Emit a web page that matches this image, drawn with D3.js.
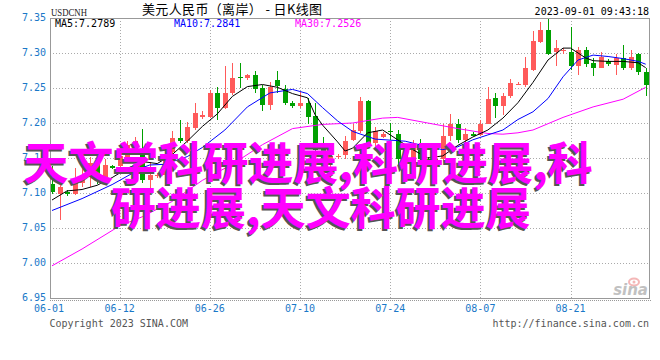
<!DOCTYPE html>
<html>
<head>
<meta charset="utf-8">
<script src="https://cdn.jsdelivr.net/npm/d3@7"></script>
<style>
  html, body { margin: 0; padding: 0; background: #fff; }
  svg { display: block; }
</style>
</head>
<body>
<div id="chart"></div>
<script>
// Trading days shown on the chart (Mon-Sat sessions)
const dates = [
  "06-01", "06-02", "06-03",
  "06-05", "06-06", "06-07", "06-08", "06-09", "06-10",
  "06-12", "06-13", "06-14", "06-15", "06-16", "06-17",
  "06-19", "06-20", "06-21", "06-22", "06-23", "06-24",
  "06-26", "06-27", "06-28", "06-29", "06-30", "07-01",
  "07-03", "07-04", "07-05", "07-06", "07-07", "07-08",
  "07-10", "07-11", "07-12", "07-13", "07-14", "07-15",
  "07-17", "07-18", "07-19", "07-20", "07-21", "07-22",
  "07-24", "07-25", "07-26", "07-27", "07-28", "07-29",
  "07-31", "08-01", "08-02", "08-03", "08-04", "08-05",
  "08-07", "08-08", "08-09", "08-10", "08-11", "08-12",
  "08-14", "08-15", "08-16", "08-17", "08-18", "08-19",
  "08-21", "08-22", "08-23", "08-24", "08-25", "08-26",
  "08-28", "08-29", "08-30", "08-31", "09-01"
];

const open = [
  7.113, 7.098, 7.101, 7.098, 7.115, 7.126, 7.143, 7.121, 7.138, 7.138,
  7.152, 7.166, 7.157, 7.119, 7.124, 7.126, 7.159, 7.179, 7.174, 7.193,
  7.209, 7.209, 7.243, 7.221, 7.243, 7.266, 7.264, 7.269, 7.250, 7.226,
  7.261, 7.249, 7.229, 7.224, 7.229, 7.210, 7.170, 7.148, 7.152, 7.155,
  7.176, 7.188, 7.231, 7.171, 7.180, 7.189, 7.185, 7.145, 7.143, 7.165,
  7.148, 7.148, 7.148, 7.181, 7.199, 7.176, 7.185, 7.183, 7.199, 7.236,
  7.225, 7.238, 7.255, 7.255, 7.276, 7.316, 7.333, 7.301, 7.304, 7.301,
  7.282, 7.305, 7.286, 7.279, 7.289, 7.283, 7.293, 7.279, 7.299, 7.273
];
const high = [
  7.138, 7.113, 7.104, 7.136, 7.143, 7.151, 7.148, 7.148, 7.140, 7.169,
  7.174, 7.180, 7.191, 7.145, 7.128, 7.166, 7.189, 7.204, 7.202, 7.229,
  7.217, 7.247, 7.252, 7.281, 7.286, 7.286, 7.270, 7.274, 7.255, 7.259,
  7.274, 7.255, 7.231, 7.245, 7.236, 7.229, 7.180, 7.169, 7.156, 7.181,
  7.198, 7.237, 7.233, 7.195, 7.187, 7.200, 7.190, 7.165, 7.176, 7.177,
  7.152, 7.159, 7.198, 7.213, 7.206, 7.193, 7.187, 7.205, 7.252, 7.243,
  7.243, 7.263, 7.258, 7.294, 7.332, 7.344, 7.350, 7.319, 7.307, 7.337,
  7.309, 7.308, 7.293, 7.301, 7.292, 7.299, 7.312, 7.305, 7.300, 7.278
];
const low = [
  7.099, 7.062, 7.096, 7.097, 7.109, 7.109, 7.113, 7.117, 7.134, 7.133,
  7.150, 7.160, 7.114, 7.107, 7.122, 7.124, 7.156, 7.171, 7.171, 7.190,
  7.206, 7.207, 7.205, 7.220, 7.240, 7.250, 7.262, 7.243, 7.217, 7.219,
  7.243, 7.226, 7.222, 7.221, 7.198, 7.150, 7.130, 7.119, 7.149, 7.148,
  7.174, 7.186, 7.164, 7.162, 7.178, 7.176, 7.140, 7.138, 7.135, 7.143,
  7.144, 7.130, 7.145, 7.174, 7.171, 7.171, 7.181, 7.181, 7.198, 7.207,
  7.212, 7.236, 7.254, 7.252, 7.274, 7.314, 7.297, 7.281, 7.298, 7.276,
  7.268, 7.280, 7.267, 7.278, 7.282, 7.268, 7.276, 7.276, 7.268, 7.238
];
const close = [
  7.101, 7.108, 7.098, 7.117, 7.124, 7.143, 7.117, 7.140, 7.136, 7.153,
  7.169, 7.175, 7.119, 7.126, 7.126, 7.152, 7.179, 7.174, 7.194, 7.214,
  7.211, 7.243, 7.221, 7.243, 7.264, 7.264, 7.269, 7.249, 7.226, 7.252,
  7.253, 7.229, 7.224, 7.229, 7.209, 7.161, 7.150, 7.153, 7.153, 7.174,
  7.190, 7.231, 7.169, 7.188, 7.185, 7.187, 7.148, 7.160, 7.168, 7.148,
  7.146, 7.142, 7.182, 7.199, 7.176, 7.185, 7.182, 7.199, 7.234, 7.224,
  7.238, 7.257, 7.256, 7.278, 7.317, 7.333, 7.299, 7.307, 7.305, 7.281,
  7.305, 7.284, 7.279, 7.294, 7.284, 7.293, 7.279, 7.294, 7.273, 7.254
];

// moving averages: [date, value]
const ma5 = [
  ["06-01", 7.090], ["06-03", 7.103], ["06-06", 7.105], ["06-08", 7.111],
  ["06-10", 7.122], ["06-13", 7.135], ["06-15", 7.145], ["06-17", 7.142],
  ["06-20", 7.155], ["06-22", 7.174], ["06-24", 7.195], ["06-27", 7.213],
  ["06-29", 7.238], ["07-01", 7.252], ["07-04", 7.255], ["07-06", 7.251],
  ["07-08", 7.242], ["07-11", 7.236], ["07-12", 7.212], ["07-13", 7.197],
  ["07-15", 7.173], ["07-17", 7.160], ["07-18", 7.164], ["07-20", 7.186],
  ["07-22", 7.190], ["07-25", 7.176], ["07-27", 7.162], ["07-29", 7.150],
  ["08-01", 7.153], ["08-03", 7.168], ["08-05", 7.180], ["08-08", 7.190],
  ["08-10", 7.207], ["08-12", 7.229], ["08-15", 7.258], ["08-17", 7.290],
  ["08-19", 7.307], ["08-21", 7.307], ["08-22", 7.300], ["08-23", 7.293],
  ["08-24", 7.289], ["08-26", 7.288], ["08-29", 7.288], ["08-31", 7.286],
  ["09-01", 7.279]
];
const ma10 = [
  ["06-01", 7.075], ["06-06", 7.092], ["06-10", 7.112], ["06-15", 7.136],
  ["06-16", 7.140], ["06-19", 7.141], ["06-22", 7.152], ["06-24", 7.165],
  ["06-28", 7.190], ["07-01", 7.223], ["07-05", 7.243], ["07-08", 7.248],
  ["07-11", 7.242], ["07-13", 7.222], ["07-15", 7.203], ["07-18", 7.188],
  ["07-21", 7.177], ["07-26", 7.174], ["07-29", 7.166], ["08-01", 7.162],
  ["08-03", 7.166], ["08-05", 7.176], ["08-08", 7.183], ["08-10", 7.190],
  ["08-12", 7.205], ["08-15", 7.216], ["08-17", 7.235], ["08-19", 7.266],
  ["08-22", 7.290], ["08-24", 7.297], ["08-26", 7.295], ["08-29", 7.292],
  ["08-31", 7.288], ["09-01", 7.284]
];
const ma30 = [
  ["06-01", 6.996], ["06-06", 7.020], ["06-12", 7.053], ["06-15", 7.066],
  ["06-20", 7.088], ["06-24", 7.118], ["06-29", 7.141], ["07-04", 7.169],
  ["07-08", 7.192], ["07-13", 7.198], ["07-18", 7.200], ["07-22", 7.207],
  ["07-25", 7.208], ["07-29", 7.200], ["08-03", 7.192], ["08-08", 7.185],
  ["08-10", 7.184], ["08-12", 7.186], ["08-15", 7.190], ["08-19", 7.208],
  ["08-24", 7.223], ["08-29", 7.234], ["09-01", 7.251]
];

const yTicks = [7.35, 7.30, 7.25, 7.20, 7.15, 7.10, 7.05, 7.00, 6.95];
const xTicks = ["06-01", "06-12", "06-26", "07-10", "07-24", "08-07", "08-21"];
const legend = [
  { label: "MA5:7.2789", color: "#000000" },
  { label: "MA10:7.2841", color: "#0000ff" },
  { label: "MA30:7.2526", color: "#ff00ff" }
];
const overlayLines = ["天文学科研进展,科研进展,科", "研进展,天文科研进展"];

const W = 660, H = 360;
const frame = { left: 50, right: 649, top: 18, bottom: 298 };
const mono = "'DejaVu Sans Mono', 'Liberation Mono', monospace";
const axisBlue = "#1a78c8";
const upColor = "#ff5a5a", downColor = "#00a000";

const svg = d3.select("#chart").append("svg")
  .attr("width", W).attr("height", H)
  .style("background", "#fff");

const x = d3.scalePoint().domain(dates).range([52, 645.7]);
const y = d3.scaleLinear().domain([6.95, 7.35]).range([frame.bottom, frame.top]);

const candles = dates.map((d, i) => ({
  date: d, open: open[i], high: high[i], low: low[i], close: close[i]
}));

// Header texts
svg.append("text")
  .attr("x", 51).attr("y", 16)
  .attr("textLength", 36).attr("lengthAdjust", "spacingAndGlyphs")
  .style("font-family", "'Liberation Serif', 'DejaVu Serif', serif")
  .style("font-size", "11px")
  .attr("fill", "#222")
  .text("USDCNH");

svg.append("text")
  .attr("x", 142).attr("y", 14)
  .attr("textLength", 180)
  .style("font-family", "'Noto Sans CJK SC', sans-serif")
  .style("font-size", "13px")
  .attr("fill", "#000")
  .text("美元人民币（离岸） - 日K线图");

svg.append("text")
  .attr("x", frame.right).attr("y", 15)
  .attr("text-anchor", "end")
  .style("font-family", mono).style("font-size", "10px")
  .attr("fill", "#000")
  .text("2023-09-01 09:43:18");

// Grid
const grid = svg.append("g")
  .attr("stroke", "#aaa").attr("stroke-dasharray", "1,2")
  .attr("shape-rendering", "crispEdges");

grid.selectAll(".hgrid")
  .data(yTicks.filter((t) => t < 7.34 && t > 6.96))
  .enter().append("line")
  .attr("x1", frame.left).attr("x2", frame.right)
  .attr("y1", (d) => Math.round(y(d)) + 0.5)
  .attr("y2", (d) => Math.round(y(d)) + 0.5);

grid.selectAll(".vgrid")
  .data(xTicks.slice(1))
  .enter().append("line")
  .attr("x1", (d) => Math.round(x(d)) + 0.5)
  .attr("x2", (d) => Math.round(x(d)) + 0.5)
  .attr("y1", frame.top).attr("y2", frame.bottom);

// dotted line under the frame
svg.append("line")
  .attr("x1", frame.left).attr("x2", 651)
  .attr("y1", 300.5).attr("y2", 300.5)
  .attr("stroke", "#999").attr("stroke-dasharray", "1,1");

// Axis labels
svg.selectAll(".ylab")
  .data(yTicks)
  .enter().append("text")
  .attr("x", 46).attr("y", (d) => y(d) + 3)
  .attr("text-anchor", "end")
  .style("font-family", mono).style("font-size", "10px")
  .attr("fill", axisBlue)
  .text((d) => d.toFixed(2));

svg.selectAll(".xlab")
  .data(xTicks)
  .enter().append("text")
  .attr("x", (d) => (d === "06-01" ? 49 : x(d)))
  .attr("y", 312)
  .attr("text-anchor", "middle")
  .style("font-family", mono).style("font-size", "10px")
  .attr("fill", axisBlue)
  .text((d) => d);

// Candles
const cg = svg.append("g").attr("shape-rendering", "crispEdges");

cg.selectAll(".wick")
  .data(candles)
  .enter().append("line")
  .attr("x1", (d) => Math.round(x(d.date)) + 0.5)
  .attr("x2", (d) => Math.round(x(d.date)) + 0.5)
  .attr("y1", (d) => y(d.high))
  .attr("y2", (d) => y(d.low))
  .attr("stroke", (d) => (d.close >= d.open ? upColor : downColor));

cg.selectAll(".body")
  .data(candles)
  .enter().append("rect")
  .attr("x", (d) => Math.round(x(d.date)) - 2)
  .attr("width", 5)
  .attr("y", (d) => y(Math.max(d.open, d.close)))
  .attr("height", (d) => Math.max(1, Math.abs(y(d.open) - y(d.close))))
  .attr("fill", (d) => (d.close >= d.open ? upColor : downColor));

// Moving averages
const line = d3.line()
  .x((d) => x(d[0]))
  .y((d) => y(d[1]));

[[ma30, "#ff00ff"], [ma10, "#0000ff"], [ma5, "#000000"]].forEach(([data, color]) => {
  svg.append("path")
    .datum(data)
    .attr("fill", "none")
    .attr("stroke", color)
    .attr("stroke-width", 1)
    .attr("d", line);
});

// Frame
svg.append("rect")
  .attr("x", frame.left + 0.5).attr("y", frame.top + 0.5)
  .attr("width", frame.right - frame.left).attr("height", frame.bottom - frame.top)
  .attr("fill", "none").attr("stroke", "#999")
  .attr("shape-rendering", "crispEdges");

// Legend
svg.selectAll(".legend")
  .data(legend)
  .enter().append("text")
  .attr("x", (d, i) => [55, 174, 295][i])
  .attr("y", 27)
  .style("font-family", mono).style("font-size", "10px")
  .attr("fill", (d) => d.color)
  .text((d) => d.label);

// sina logo
const logo = svg.append("g").attr("opacity", 0.6);
logo.append("ellipse")
  .attr("cx", 634).attr("cy", 282).attr("rx", 5).attr("ry", 3.5)
  .attr("fill", "none").attr("stroke", "#e88").attr("stroke-width", 2);
logo.append("circle")
  .attr("cx", 634).attr("cy", 282).attr("r", 1.5).attr("fill", "#e88");
logo.append("text")
  .attr("x", 648).attr("y", 295)
  .attr("text-anchor", "end")
  .style("font-family", "'DejaVu Sans', sans-serif")
  .style("font-size", "15px").style("font-style", "italic").style("font-weight", "bold")
  .attr("fill", "#999")
  .text("sina");

// Footer
svg.append("text")
  .attr("x", 49.5).attr("y", 327)
  .style("font-family", mono).style("font-size", "10px")
  .attr("fill", "#555")
  .text("Copyright 2023 SINA.COM");

svg.append("text")
  .attr("x", frame.right).attr("y", 327)
  .attr("text-anchor", "end")
  .style("font-family", mono).style("font-size", "10px")
  .attr("fill", "#555")
  .text("http://finance.sina.com.cn");

// Overlay caption
const cap = svg.append("g")
  .style("font-family", "'Noto Sans CJK SC', sans-serif")
  .style("font-size", "45px")
  .style("font-weight", "bold");

const capPos = [[23.5, 180], [111, 224.5]];
overlayLines.forEach((t, i) => {
  cap.append("text")
    .attr("x", capPos[i][0] - 2).attr("y", capPos[i][1] + 2)
    .attr("fill", "#555")
    .text(t);
  cap.append("text")
    .attr("x", capPos[i][0]).attr("y", capPos[i][1])
    .attr("fill", "#ff00ff")
    .text(t);
});
</script>
</body>
</html>
